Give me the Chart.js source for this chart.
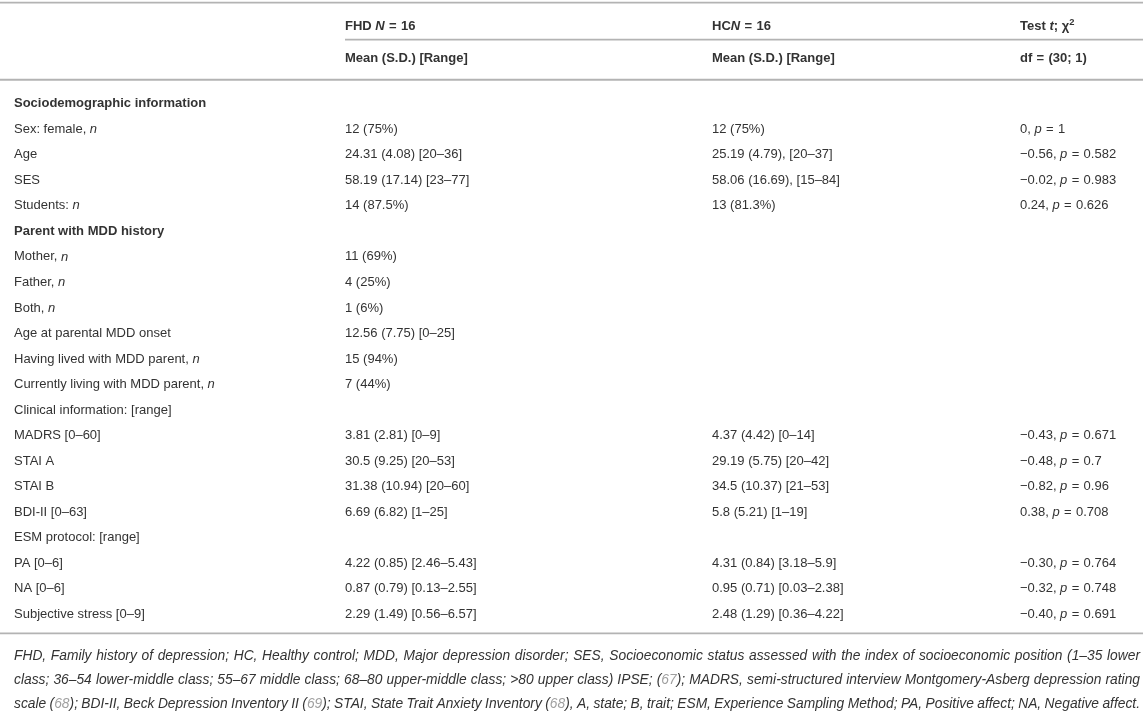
<!DOCTYPE html>
<html>
<head>
<meta charset="utf-8">
<title>Table</title>
<script src="https://cdn.jsdelivr.net/npm/chart.js@4.4.1/dist/chart.umd.min.js"></script>
<style>
  html, body { margin: 0; padding: 0; background: #fff; }
  #table { display: block; }
</style>
</head>
<body>
<canvas id="table" width="1143" height="720"></canvas>
<script>
// markers inside strings: _italic_  ~grey~  ^superscript^
const headerTop = ['', 'FHD _N_ = 16', 'HC_N_ = 16', 'Test _t_; χ^2^'];
const headerSub = ['', 'Mean (S.D.) [Range]', 'Mean (S.D.) [Range]', 'df = (30; 1)'];

const rowLabels = [
  'Sociodemographic information',
  'Sex: female, _n_',
  'Age',
  'SES',
  'Students: _n_',
  'Parent with MDD history',
  'Mother, _n_',
  'Father, _n_',
  'Both, _n_',
  'Age at parental MDD onset',
  'Having lived with MDD parent, _n_',
  'Currently living with MDD parent, _n_',
  'Clinical information: [range]',
  'MADRS [0–60]',
  'STAI A',
  'STAI B',
  'BDI-II [0–63]',
  'ESM protocol: [range]',
  'PA [0–6]',
  'NA [0–6]',
  'Subjective stress [0–9]'
];

const fhdValues = [
  '', '12 (75%)', '24.31 (4.08) [20–36]', '58.19 (17.14) [23–77]', '14 (87.5%)',
  '', '11 (69%)', '4 (25%)', '1 (6%)', '12.56 (7.75) [0–25]', '15 (94%)', '7 (44%)',
  '', '3.81 (2.81) [0–9]', '30.5 (9.25) [20–53]', '31.38 (10.94) [20–60]', '6.69 (6.82) [1–25]',
  '', '4.22 (0.85) [2.46–5.43]', '0.87 (0.79) [0.13–2.55]', '2.29 (1.49) [0.56–6.57]'
];

const hcValues = [
  '', '12 (75%)', '25.19 (4.79), [20–37]', '58.06 (16.69), [15–84]', '13 (81.3%)',
  '', '', '', '', '', '', '',
  '', '4.37 (4.42) [0–14]', '29.19 (5.75) [20–42]', '34.5 (10.37) [21–53]', '5.8 (5.21) [1–19]',
  '', '4.31 (0.84) [3.18–5.9]', '0.95 (0.71) [0.03–2.38]', '2.48 (1.29) [0.36–4.22]'
];

const testValues = [
  '', '0, _p_ = 1', '−0.56, _p_ = 0.582', '−0.02, _p_ = 0.983', '0.24, _p_ = 0.626',
  '', '', '', '', '', '', '',
  '', '−0.43, _p_ = 0.671', '−0.48, _p_ = 0.7', '−0.82, _p_ = 0.96', '0.38, _p_ = 0.708',
  '', '−0.30, _p_ = 0.764', '−0.32, _p_ = 0.748', '−0.40, _p_ = 0.691'
];

const boldRows = [0, 5];

const footnoteLines = [
  'FHD, Family history of depression; HC, Healthy control; MDD, Major depression disorder; SES, Socioeconomic status assessed with the index of socioeconomic position (1–35 lower',
  'class; 36–54 lower-middle class; 55–67 middle class; 68–80 upper-middle class; >80 upper class) IPSE; (~67~); MADRS, semi-structured interview Montgomery-Asberg depression rating',
  'scale (~68~); BDI-II, Beck Depression Inventory II (~69~); STAI, State Trait Anxiety Inventory (~68~), A, state; B, trait; ESM, Experience Sampling Method; PA, Positive affect; NA, Negative affect.'
];

const FONT = '"Liberation Sans", Arial, Helvetica, sans-serif';

function parseRich(text){
  const segs = [];
  // slightly wider spacing round "=" as in math setting
  text = text.replace(/ = /g, '\u2004=\u2004');
  let cur = {text: '', italic: false, grey: false, sup: false};
  for(let ch of text){
    if(ch === '_' || ch === '~' || ch === '^'){
      if(cur.text) segs.push(cur);
      cur = {text: '', italic: cur.italic, grey: cur.grey, sup: cur.sup};
      if(ch === '_') cur.italic = !cur.italic;
      if(ch === '~') cur.grey = !cur.grey;
      if(ch === '^') cur.sup = !cur.sup;
    } else {
      cur.text += ch;
    }
  }
  if(cur.text) segs.push(cur);
  return segs;
}

function segFont(seg, style){
  const size = seg.sup ? style.size * 0.72 : style.size;
  return (seg.italic || style.italic ? 'italic ' : '') + (style.bold ? 'bold ' : '') + size + 'px ' + FONT;
}

function drawRich(ctx, text, x, y, style){
  const segs = parseRich(text);
  let natural = 0;
  let spaces = 0;
  for(let seg of segs){
    ctx.font = segFont(seg, style);
    natural += ctx.measureText(seg.text).width;
    spaces += seg.text.split(' ').length - 1;
  }
  let extra = 0;
  if(style.justify && spaces > 0){
    extra = (style.width - natural) / spaces;
  }
  let px = x;

  ctx.textBaseline = 'middle';
  ctx.textAlign = 'left';
  for(let seg of segs){
    ctx.font = segFont(seg, style);
    ctx.fillStyle = seg.grey ? style.grey : style.color;
    const py = seg.sup ? y - style.size * 0.32 : y;
    const words = seg.text.split(' ');
    const spaceW = ctx.measureText(' ').width;
    words.forEach(function(word, i){
      if(i > 0) px += spaceW + extra;
      ctx.fillText(word, px, py);
      px += ctx.measureText(word).width;
    });
  }
}

const tablePlugin = {
  id: 'tableText',
  afterDraw: function(chart, args, opts){
    const ctx = chart.ctx;
    const xScale = chart.scales.x;
    const yScale = chart.scales.y;
    const y0 = yScale.getPixelForValue(0);
    const step = yScale.getPixelForValue(1) - y0;
    const rowY = function(v){ return y0 + v * step; };
    const colX = opts.colLeft.map(function(v){ return xScale.getPixelForValue(v); });
    const left = xScale.getPixelForValue(xScale.min);
    const right = xScale.getPixelForValue(xScale.max);
    const cell = {size: opts.fontSize, color: opts.color, grey: opts.grey};

    ctx.save();

    // rules
    ctx.strokeStyle = opts.ruleColor;
    ctx.lineWidth = opts.ruleWidth;
    const rule = function(v, x1){
      ctx.beginPath();
      ctx.moveTo(x1, rowY(v));
      ctx.lineTo(right, rowY(v));
      ctx.stroke();
    };
    rule(opts.rules.top, left);
    rule(opts.rules.group, colX[1]);
    rule(opts.rules.head, left);
    rule(opts.rules.bottom, left);

    // header rows
    for(let c = 1; c < 4; c++){
      drawRich(ctx, headerTop[c], colX[c], rowY(opts.headRows[0]), Object.assign({}, cell, {bold: true}));
      drawRich(ctx, headerSub[c], colX[c], rowY(opts.headRows[1]), Object.assign({}, cell, {bold: true}));
    }

    // body
    const columns = [rowLabels, fhdValues, hcValues, testValues];
    yScale.getLabels().forEach(function(label, i){
      const bold = boldRows.indexOf(i) !== -1;
      columns.forEach(function(col, c){
        if(col[i]) drawRich(ctx, col[i], colX[c], rowY(i), Object.assign({}, cell, {bold: bold}));
      });
    });

    // footnote
    footnoteLines.forEach(function(line, i){
      drawRich(ctx, line, colX[0], rowY(opts.noteRows[i]), Object.assign({}, cell, {
        size: opts.noteSize, italic: true, justify: true, width: right - opts.noteInset - colX[0]
      }));
    });

    ctx.restore();
  }
};

const app = {
  initChart: function(){
    const thisApp = this;
    thisApp.ctx = document.getElementById('table').getContext('2d');

    thisApp.chart = new Chart(thisApp.ctx, {
      type: 'bar',
      data: {
        labels: rowLabels,
        datasets: [{
          data: rowLabels.map(function(){ return 0; }),
          backgroundColor: 'rgba(0,0,0,0)',
        }]
      },
      options: {
        indexAxis: 'y',
        responsive: false,
        animation: false,
        events: [],
        layout: { padding: { top: 91, bottom: 93, left: 0, right: 0 } },
        scales: {
          x: { type: 'linear', min: 0, max: 1143, display: false },
          y: { type: 'category', offset: true, display: false },
        },
        plugins: {
          legend: { display: false },
          tooltip: { enabled: false },
          tableText: {
            colLeft: [14, 345, 712, 1020],
            headRows: [-3.02, -1.76],
            noteRows: [21.65, 22.59, 23.53],
            noteInset: 3,
            rules: { top: -3.96, group: -2.51, head: -0.94, bottom: 20.75 },
            fontSize: 13,
            noteSize: 13.8,
            color: '#333333',
            grey: '#a0a0a0',
            ruleColor: '#b3b3b3',
            ruleWidth: 1.8,
          }
        }
      },
      plugins: [tablePlugin]
    });
  },

  init: function(){
    this.initChart();
  }
};

app.init();
</script>
</body>
</html>
